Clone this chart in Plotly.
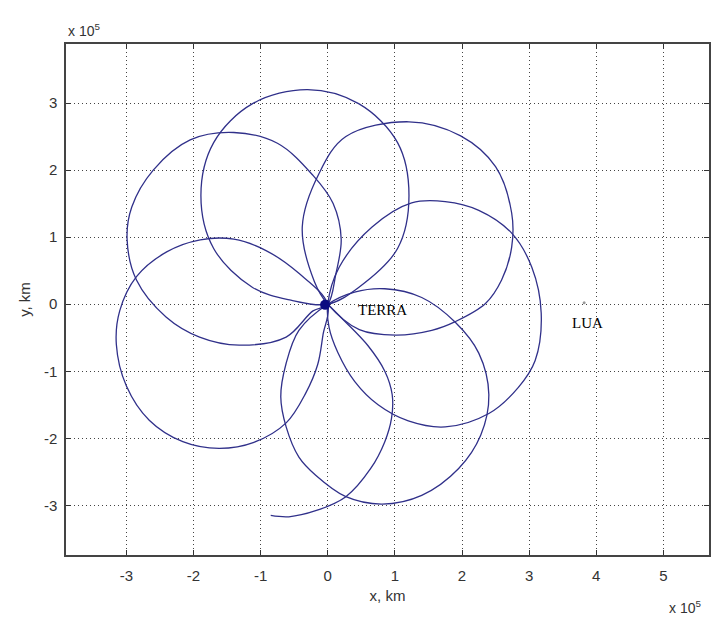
import plotly.graph_objects as go

# trajectory loops, units of 1e5 km
c1_x = [0, 0.46, 1.04, 1.21, 1.04, 0.46, -0.30, -1.12, -1.70, -1.89, -1.70, -1.12, -0.55, 0]
c1_y = [0, 0.25, 0.83, 1.62, 2.41, 2.99, 3.20, 2.99, 2.41, 1.62, 0.83, 0.25, 0.06, 0]

c2_x = [0, 0.12, 0.20, 0.08, -0.22, -0.75, -1.40, -2.05, -2.60, -2.92, -2.99, -2.85, -2.41, -1.91, -1.32, -0.62, -0.22, 0]
c2_y = [0, 0.45, 0.97, 1.50, 1.92, 2.40, 2.56, 2.45, 2.00, 1.45, 0.97, 0.36, -0.19, -0.49, -0.61, -0.49, -0.10, 0]

c3_x = [0, 0.47, 1.01, 1.55, 1.90, 2.35, 2.59, 2.74, 2.74, 2.50, 1.98, 1.21, 0.27, -0.13, -0.38, -0.20, 0]
c3_y = [0, -0.38, -0.46, -0.39, -0.26, 0.01, 0.36, 0.85, 1.36, 2.05, 2.51, 2.72, 2.50, 1.95, 1.15, 0.34, 0]

c4_x = [0, 0.17, 0.66, 1.25, 1.75, 2.25, 2.74, 3.04, 3.18, 3.09, 2.84, 2.40, 1.75, 1.20, 0.75, 0.40, 0.15, 0.02, 0]
c4_y = [0, 0.55, 1.15, 1.51, 1.53, 1.40, 1.06, 0.55, -0.13, -0.84, -1.24, -1.63, -1.83, -1.74, -1.50, -1.15, -0.72, -0.35, 0]

c5_x = [0, -0.43, -0.62, -0.70, -0.62, -0.43, -0.18, 0.27, 0.81, 1.40, 1.95, 2.28, 2.40, 2.25, 1.90, 1.40, 0.85, 0.40, 0]
c5_y = [0, -0.39, -0.88, -1.38, -1.83, -2.28, -2.55, -2.87, -2.98, -2.85, -2.45, -1.95, -1.35, -0.73, -0.27, 0.10, 0.23, 0.18, 0]

c6_x = [0, -0.43, -0.92, -1.40, -1.90, -2.40, -2.85, -3.10, -3.15, -3.00, -2.66, -2.16, -1.62, -1.10, -0.62, -0.33, -0.15, -0.07, 0]
c6_y = [0, 0.46, 0.80, 0.97, 0.96, 0.78, 0.41, -0.10, -0.60, -1.22, -1.73, -2.05, -2.15, -2.06, -1.77, -1.33, -0.90, -0.45, 0]

tail_x = [0, 0.25, 0.60, 0.85, 0.96, 0.95, 0.85, 0.64, 0.27, -0.18, -0.58, -0.85]
tail_y = [0, -0.25, -0.62, -1.00, -1.35, -1.70, -2.05, -2.45, -2.87, -3.08, -3.17, -3.15]

earth_x, earth_y = [-0.04], [-0.01]
moon_x, moon_y = [3.82], [0.02]

x_ticks = [-3, -2, -1, 0, 1, 2, 3, 4, 5]
x_tick_text = ['-3', '-2', '-1', '0', '1', '2', '3', '4', '5']
y_ticks = [-3, -2, -1, 0, 1, 2, 3]
y_tick_text = ['-3', '-2', '-1', '0', '1', '2', '3']

loops = [(c5_x, c5_y), (c4_x, c4_y), (c3_x, c3_y), (c1_x, c1_y),
         (c2_x, c2_y), (c6_x, c6_y), (tail_x, tail_y)]

line_col = '#30308a'
fig = go.Figure()
for lx, ly in loops:
    fig.add_trace(go.Scatter(x=lx, y=ly, mode='lines',
                             line=dict(color=line_col, width=1.3, shape='spline'),
                             hoverinfo='skip', showlegend=False))

fig.add_trace(go.Scatter(x=earth_x, y=earth_y, mode='markers',
                         marker=dict(color='#0c0c80', size=10), showlegend=False))
fig.add_trace(go.Scatter(x=moon_x, y=moon_y, mode='markers',
                         marker=dict(color='#999999', size=3), showlegend=False))

tick_font = dict(family='Liberation Sans, Arial', size=15, color='#333333')
axis_common = dict(
    showline=True, linecolor='#444444', linewidth=1.5, mirror='ticks',
    ticks='inside', ticklen=5, tickcolor='#333333', tickwidth=1,
    showgrid=True, griddash='1px,3px', gridcolor='#444444', gridwidth=1,
    zeroline=False, tickfont=tick_font,
)

fig.update_xaxes(range=[-3.9, 5.68], tickvals=x_ticks, ticktext=x_tick_text,
                 title=dict(text='x, km', font=tick_font, standoff=8),
                 ticklabelstandoff=6, **axis_common)
fig.update_yaxes(range=[-3.74, 3.88], tickvals=y_ticks, ticktext=y_tick_text,
                 title=dict(text='y, km', font=tick_font, standoff=10),
                 ticklabelstandoff=4, **axis_common)

fig.add_annotation(text='x 10<sup>5</sup>', xref='paper', yref='paper', x=0, y=1,
                   xanchor='left', yanchor='bottom', yshift=3, showarrow=False,
                   font=dict(family='Liberation Sans, Arial', size=14, color='#333333'))
fig.add_annotation(text='x 10<sup>5</sup>', xref='paper', yref='paper', x=0.991, y=-0.102,
                   xanchor='right', yanchor='middle', showarrow=False,
                   font=dict(family='Liberation Sans, Arial', size=14, color='#333333'))
fig.add_annotation(text='TERRA', x=0.42, y=-0.08, xanchor='left', yanchor='middle',
                   showarrow=False, font=dict(family='Liberation Serif', size=15, color='black'))
fig.add_annotation(text='LUA', x=3.61, y=-0.28, xanchor='left', yanchor='middle',
                   showarrow=False, font=dict(family='Liberation Serif', size=15, color='black'))

fig.update_layout(width=713, height=623, plot_bgcolor='white', paper_bgcolor='white',
                  margin=dict(l=66, r=2, t=44, b=68))
# page body has a default 8px margin; drop it so the chart sits at the window origin
fig.write_html("out.html", config={'displayModeBar': False},
               post_script="document.body.style.margin='0px';")
